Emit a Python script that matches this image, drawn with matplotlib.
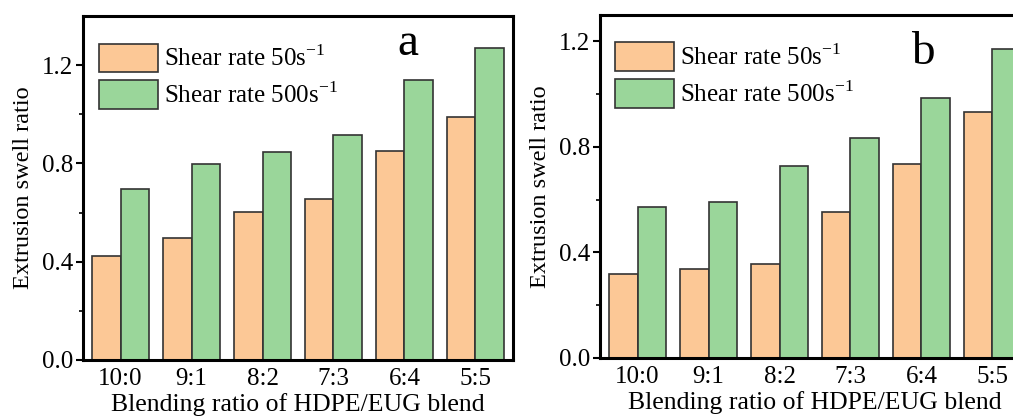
import matplotlib.pyplot as plt
import numpy as np

plt.rcParams['font.family'] = ['Liberation Serif', 'DejaVu Serif']
plt.rcParams['mathtext.fontset'] = 'custom'
plt.rcParams['mathtext.rm'] = 'Liberation Serif'

ratios = ["10:0", "9:1", "8:2", "7:3", "6:4", "5:5"]
series_names = ["Shear rate 50s$^{-1}$", "Shear rate 500s$^{-1}$"]

# panel a
a_low = [0.423, 0.496, 0.601, 0.654, 0.850, 0.990]
a_high = [0.697, 0.797, 0.847, 0.914, 1.139, 1.271]
# panel b
b_low = [0.319, 0.338, 0.357, 0.553, 0.737, 0.931]
b_high = [0.572, 0.592, 0.726, 0.834, 0.985, 1.171]

colors = ["#FCC896", "#9AD69A"]
edge = "#333333"

W, H = 1013, 416
fig = plt.figure(figsize=(W / 100, H / 100), dpi=100)


def px_axes(left, top, right, bottom):
    return fig.add_axes([left / W, 1 - bottom / H, (right - left) / W, (bottom - top) / H])


def draw_panel(ax, low, high, ymax, letter, letter_xy, leg_xy):
    x = np.arange(len(ratios))
    w = 0.4
    ax.bar(x - w / 2, low, w, color=colors[0], edgecolor=edge, linewidth=1.2, label=series_names[0])
    ax.bar(x + w / 2, high, w, color=colors[1], edgecolor=edge, linewidth=1.2, label=series_names[1])
    ax.set_xlim(-0.53, 5.53)
    ax.set_ylim(0, ymax)
    ax.set_xticks(x)
    ax.set_xticklabels(ratios)
    ax.set_yticks([0.0, 0.4, 0.8, 1.2])
    ax.set_yticks([0.2, 0.6, 1.0], minor=True)
    ax.yaxis.set_major_formatter(plt.FormatStrFormatter('%.1f'))
    ax.tick_params(axis='both', which='major', labelsize=18, width=1.5, length=5, direction='out', pad=2)
    ax.tick_params(axis='y', which='minor', width=1.2, length=3, direction='out')
    ax.tick_params(axis='x', length=0, pad=6)
    for s in ax.spines.values():
        s.set_linewidth(2.2)
    ax.set_xlabel("Blending ratio of HDPE/EUG blend", fontsize=18.5, labelpad=2)
    ax.set_ylabel("Extrusion swell ratio", fontsize=17.5, labelpad=6)
    ax.legend(loc='upper left', fontsize=18, frameon=False, handlelength=2.36, handleheight=1.4,
              borderpad=0, borderaxespad=0, labelspacing=0.3, handletextpad=0.25,
              bbox_to_anchor=leg_xy)
    ax.text(letter_xy[0], letter_xy[1], letter, transform=ax.transAxes, fontsize=34,
            ha='center', va='center')


ax1 = px_axes(83, 16, 513, 360)
draw_panel(ax1, a_low, a_high, 1.4, "a", (0.755, 0.92), (0.037, 0.92))

ax2 = px_axes(600, 15, 1030, 358)
draw_panel(ax2, b_low, b_high, 1.3, "b", (0.75, 0.89), (0.035, 0.92))

fig.savefig("out.png", dpi=100)
